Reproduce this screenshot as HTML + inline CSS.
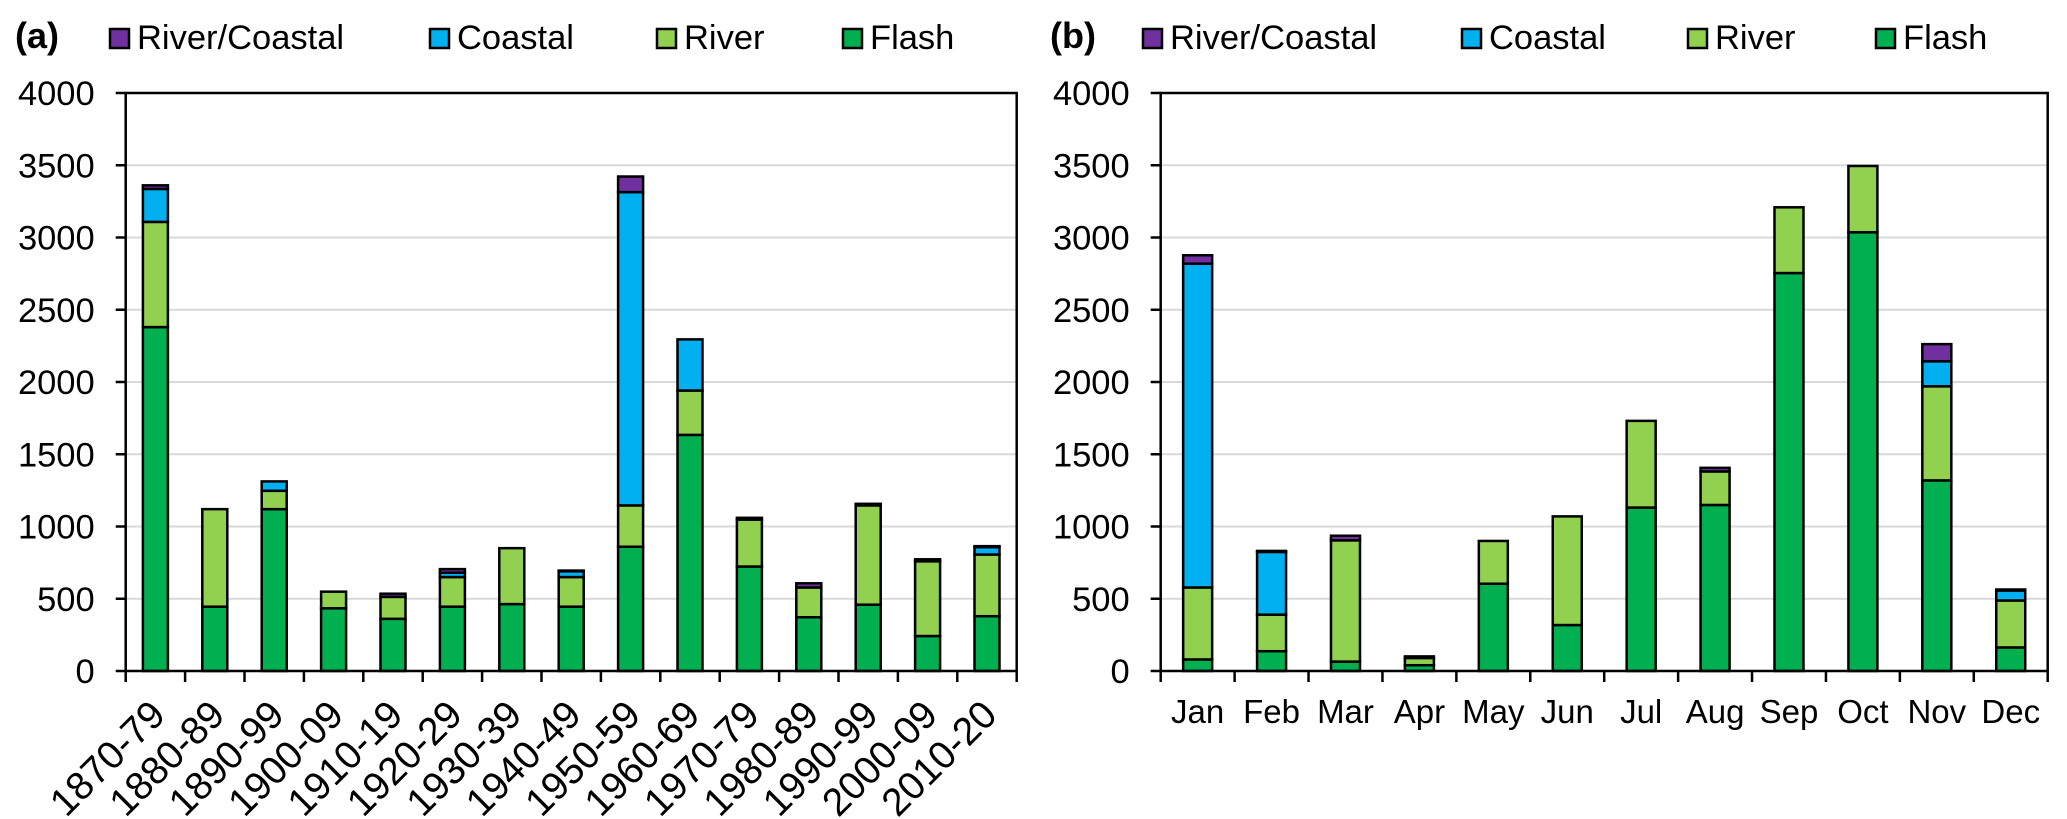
<!DOCTYPE html>
<html><head><meta charset="utf-8">
<style>
html,body{margin:0;padding:0;background:#fff;}
svg{display:block;font-family:"Liberation Sans",Arial,sans-serif;}
</style></head>
<body>
<svg id="chart" width="2067" height="819" viewBox="0 0 2067 819" xmlns="http://www.w3.org/2000/svg"></svg>
<script>
// Panel (a) data
const decades = ["1870-79","1880-89","1890-99","1900-09","1910-19","1920-29","1930-39","1940-49","1950-59","1960-69","1970-79","1980-89","1990-99","2000-09","2010-20"];
const decFlash = [2380,445,1120,434,361,445,463,445,860,1634,723,372,459,242,379];
const decRiver = [728,675,127,115,152,205,387,205,286,307,325,206,687,517,427];
const decCoastal = [228,0,65,0,0,30,0,40,2168,354,0,0,0,0,51];
const decRiverCoastal = [25,0,0,0,22,25,0,5,108,0,12,29,11,14,7];
// Panel (b) data
const months = ["Jan","Feb","Mar","Apr","May","Jun","Jul","Aug","Sep","Oct","Nov","Dec"];
const monFlash = [80,137,65,40,604,318,1131,1149,2754,3036,1319,163];
const monRiver = [498,253,839,50,296,752,600,232,455,459,651,325];
const monCoastal = [2241,434,0,0,0,0,0,0,0,0,173,69];
const monRiverCoastal = [58,7,32,11,0,0,0,25,0,0,119,7];
const yTicks = [0,500,1000,1500,2000,2500,3000,3500,4000];
const seriesNames = ["River/Coastal","Coastal","River","Flash"];
const seriesColors = ["#7030a0","#00b0f0","#92d050","#00b050"];

const NS="http://www.w3.org/2000/svg";
const svg=document.getElementById('chart');
function mk(tag,attrs,parent){const e=document.createElementNS(NS,tag);for(const k in attrs)e.setAttribute(k,attrs[k]);(parent||svg).appendChild(e);return e;}

function panel(opts){
  const g=mk('g',{});
  
  
  const L=opts.left,R=opts.right,B=671,T=93,maxV=4000;
  const y=v=>B-(v/maxV)*(B-T);
  const n=opts.cats.length,cw=(R-L)/n;
  const x=i=>L+cw*(i+0.5);
  yTicks.forEach(t=>{
    if(t===0)return;
    const ln=mk('line',{x1:L,x2:R,y1:y(t),y2:y(t),stroke:'#d9d9d9','stroke-width':2},g);
    
    
  });
  yTicks.forEach(t=>{
    const tx=mk('text',{x:L-31,y:y(t)+12,'text-anchor':'end','font-size':34.5,fill:'#000'},g);
    tx.textContent=t;
    
    
    mk('line',{x1:L-10,x2:L,y1:y(t),y2:y(t),stroke:'#000','stroke-width':2.5},g);
  });
  const stacks=[opts.flash,opts.river,opts.coastal,opts.rc];
  const cols=[seriesColors[3],seriesColors[2],seriesColors[1],seriesColors[0]];
  const snames=['flash','river','coastal','river-coastal'];
  opts.cats.forEach((c,i)=>{
    let base=0;
    stacks.forEach((s,k)=>{
      const v=s[i];
      if(v<=0)return;
      const r=mk('rect',{x:x(i)-opts.bw/2,y:y(base+v),width:opts.bw,height:y(base)-y(base+v),fill:cols[k],stroke:'#000','stroke-width':2.5},g);
      
      
      base+=v;
    });
  });
  const fr=mk('rect',{x:L,y:T,width:R-L,height:B-T,fill:'none',stroke:'#000','stroke-width':2.5},g);
  
  
  for(let i=0;i<=n;i++){mk('line',{x1:L+cw*i,x2:L+cw*i,y1:B,y2:B+11,stroke:'#000','stroke-width':2.5},g);}
  opts.cats.forEach((c,i)=>{
    let tx;
    if(opts.rotate){
      tx=mk('text',{x:0,y:0,'text-anchor':'end','font-size':39,fill:'#000',transform:`translate(${x(i)+12},${B+46}) rotate(-45)`},g);
    } else {
      tx=mk('text',{x:x(i),y:723,'text-anchor':'middle','font-size':33,fill:'#000'},g);
    }
    tx.textContent=c;
    
    
  });
  const pl=mk('text',{x:opts.letterX,y:48,'font-size':36,'font-weight':'bold',fill:'#000'},g);
  pl.textContent=opts.letter;
  
  
  seriesNames.forEach((nm,k)=>{
    const lx=opts.legendX[k];
    const sw=mk('rect',{x:lx,y:29,width:19,height:19,fill:seriesColors[k],stroke:'#000','stroke-width':2.5},g);
    
    
    const lt=mk('text',{x:lx+27,y:49,'font-size':34.5,fill:'#000'},g);
    lt.textContent=nm;
    
    
  });
}

panel({name:'panel-a-decades',left:125.7,right:1016.7,cats:decades,flash:decFlash,river:decRiver,coastal:decCoastal,rc:decRiverCoastal,bw:25,rotate:true,letter:'(a)',letterX:15,legendX:[110,430,657,843]});
panel({name:'panel-b-months',left:1160.7,right:2047.7,cats:months,flash:monFlash,river:monRiver,coastal:monCoastal,rc:monRiverCoastal,bw:29,rotate:false,letter:'(b)',letterX:1050,legendX:[1143,1462,1688,1876]});
</script>
</body></html>
